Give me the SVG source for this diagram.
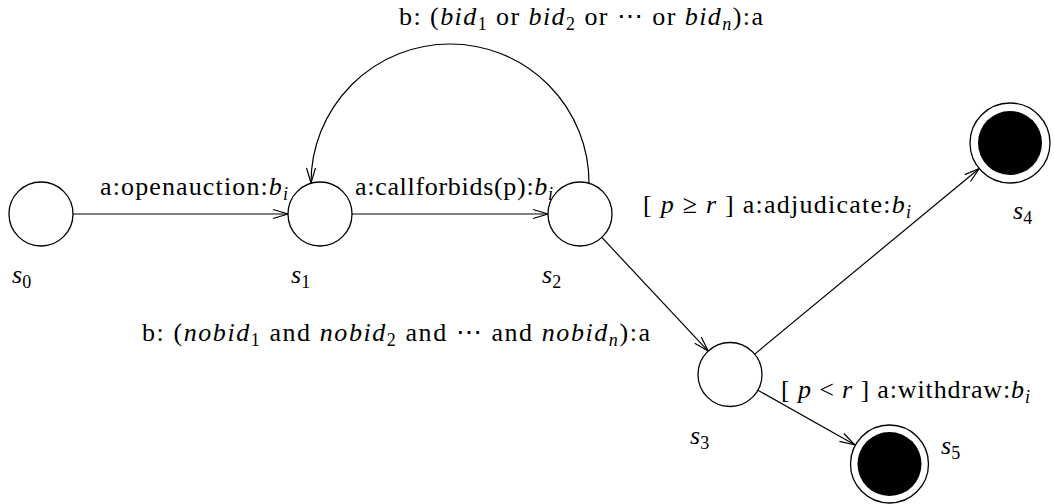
<svg xmlns="http://www.w3.org/2000/svg" width="1054" height="504" viewBox="0 0 1054 504" font-family="'Liberation Serif', 'Times New Roman', serif">
<style>
.st{fill:#fff;stroke:#000;stroke-width:1.3}
.fin{fill:#000}
.edge{fill:none;stroke:#000;stroke-width:1.2;marker-end:url(#arr)}
text{font-family:'Liberation Serif','Times New Roman','DejaVu Serif',serif;font-size:26px;fill:#000}
.it{font-style:italic}
.sub{font-size:18px}
</style>
<defs>
<marker id="arr" markerUnits="userSpaceOnUse" markerWidth="16" markerHeight="12" refX="15" refY="6" orient="auto" overflow="visible">
<path d="M0,1.5 L15,6 L0,10.5" fill="none" stroke="#000" stroke-width="1.2"/>
</marker>
</defs>
<rect width="1054" height="504" fill="#fff"/>
<g id="connectors">
<line class="edge" x1="73" y1="214" x2="288" y2="214"/>
<line class="edge" x1="352" y1="214" x2="548" y2="214"/>
<path class="edge" d="M589,183 A139,139 0 0 0 311,183"/>
<line class="edge" x1="601.8" y1="237.4" x2="708.2" y2="351.1"/>
<line class="edge" x1="754.7" y1="354.1" x2="979.2" y2="168.5"/>
<line class="edge" x1="757.9" y1="390.2" x2="854.7" y2="444.8"/>
</g>
<g id="edge-labels">
<text x="399" y="25" textLength="364" lengthAdjust="spacing">b: (<tspan class="it">bid</tspan><tspan class="sub" dy="5">1</tspan><tspan dy="-5"> or </tspan><tspan class="it">bid</tspan><tspan class="sub" dy="5">2</tspan><tspan dy="-5"> or ⋯ or </tspan><tspan class="it">bid</tspan><tspan class="sub it" dy="5">n</tspan><tspan dy="-5">):a</tspan></text>
<text x="100" y="195" textLength="188" lengthAdjust="spacing">a:openauction:<tspan class="it">b</tspan><tspan class="sub it" dy="5">i</tspan></text>
<text x="355" y="195" textLength="198" lengthAdjust="spacing">a:callforbids(p):<tspan class="it">b</tspan><tspan class="sub it" dy="5">i</tspan></text>
<text x="643" y="213" textLength="268" lengthAdjust="spacing">[ <tspan class="it">p</tspan> ≥ <tspan class="it">r</tspan> ] a:adjudicate:<tspan class="it">b</tspan><tspan class="sub it" dy="5">i</tspan></text>
<text x="142" y="341" textLength="508" lengthAdjust="spacing">b: (<tspan class="it">nobid</tspan><tspan class="sub" dy="5">1</tspan><tspan dy="-5"> and </tspan><tspan class="it">nobid</tspan><tspan class="sub" dy="5">2</tspan><tspan dy="-5"> and ⋯ and </tspan><tspan class="it">nobid</tspan><tspan class="sub it" dy="5">n</tspan><tspan dy="-5">):a</tspan></text>
<text x="781" y="398" textLength="249" lengthAdjust="spacing">[ <tspan class="it">p</tspan> &lt; <tspan class="it">r</tspan> ] a:withdraw:<tspan class="it">b</tspan><tspan class="sub it" dy="5">i</tspan></text>
</g>
<g id="s0">
<circle class="st" cx="41" cy="214" r="32"/>
<text x="12" y="283"><tspan class="it">s</tspan><tspan class="sub" dy="5">0</tspan></text>
</g>
<g id="s1">
<circle class="st" cx="320" cy="214" r="32"/>
<text x="291" y="283"><tspan class="it">s</tspan><tspan class="sub" dy="5">1</tspan></text>
</g>
<g id="s2">
<circle class="st" cx="580" cy="214" r="32"/>
<text x="542" y="283"><tspan class="it">s</tspan><tspan class="sub" dy="5">2</tspan></text>
</g>
<g id="s3">
<circle class="st" cx="730" cy="374.5" r="32"/>
<text x="690" y="444"><tspan class="it">s</tspan><tspan class="sub" dy="5">3</tspan></text>
</g>
<g id="s4">
<circle class="st" cx="1010" cy="143" r="40"/>
<circle class="fin" cx="1010" cy="143" r="32"/>
<text x="1013" y="219"><tspan class="it">s</tspan><tspan class="sub" dy="5">4</tspan></text>
</g>
<g id="s5">
<circle class="st" cx="889.5" cy="464" r="39"/>
<circle class="fin" cx="889.5" cy="464" r="32"/>
<text x="941" y="454"><tspan class="it">s</tspan><tspan class="sub" dy="5">5</tspan></text>
</g>
</svg>
